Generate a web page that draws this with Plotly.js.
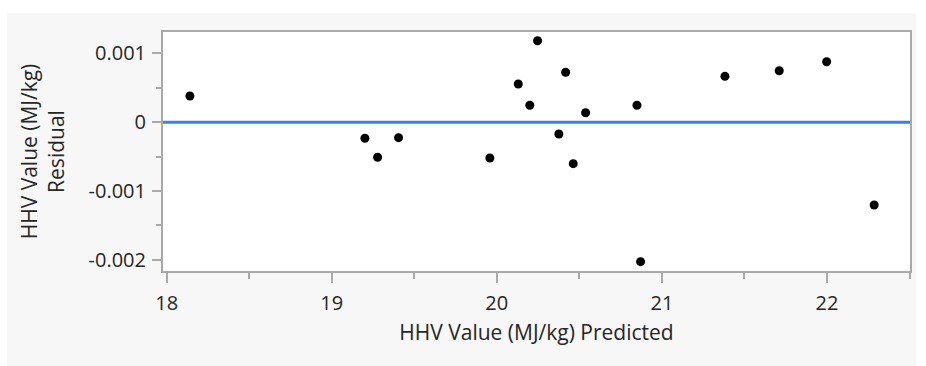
<!DOCTYPE html>
<html>
<head>
<meta charset="utf-8">
<script src="https://cdn.plot.ly/plotly-3.0.1.min.js"></script>
<style>
  html, body { margin: 0; padding: 0; background: #ffffff; }
  #chart { position: absolute; left: 7px; top: 13px; width: 909px; height: 353px; }
</style>
</head>
<body>
<div id="chart"></div>
<script>
// Predicted HHV values (x) and residuals (y)
const predicted = [18.141, 19.201, 19.278, 19.405, 19.958, 20.130, 20.200, 20.247, 20.376,
                   20.417, 20.463, 20.538, 20.849, 20.871, 21.382, 21.711, 21.998, 22.286];
const residual  = [0.000381, -0.000234, -0.000510, -0.000225, -0.000521, 0.000555, 0.000246, 0.001185, -0.000172,
                   0.000726, -0.000603, 0.000138, 0.000246, -0.002028, 0.000667, 0.000749, 0.000880, -0.001204];
const xTicks = [18, 19, 20, 21, 22];
const yTicks = [-0.002, -0.001, 0, 0.001];
const yTickText = ['-0.002', '-0.001', '0', '0.001'];
const xRange = [17.978, 22.503];
const yRange = [-0.002164, 0.001312];
const xTitle = 'HHV Value (MJ/kg) Predicted';
const yTitle = 'HHV Value (MJ/kg)<br>Residual';

const font = 'Segoe UI, "Open Sans", "Noto Sans", sans-serif';
const textColor = '#262626';
const axisColor = '#a9a9a9';

const traces = [
  {
    x: xRange, y: [0, 0], type: 'scatter', mode: 'lines',
    line: { color: '#3e7ef0', width: 3 }, hoverinfo: 'skip', showlegend: false
  },
  {
    x: predicted, y: residual, type: 'scatter', mode: 'markers',
    marker: { color: '#000000', size: 9 }, showlegend: false
  }
];

const layout = {
  width: 909, height: 353,
  margin: { l: 156, r: 6, t: 19, b: 95 },
  paper_bgcolor: '#f7f7f7',
  plot_bgcolor: '#ffffff',
  font: { family: font, size: 20, color: textColor },
  xaxis: {
    range: xRange, tickvals: xTicks, ticks: 'outside', ticklen: 10, tickwidth: 2, tickcolor: axisColor,
    showline: true, linecolor: axisColor, linewidth: 2, mirror: true, showgrid: false, zeroline: false,
    ticklabelstandoff: 3,
    minor: { dtick: 0.5, tick0: 18, ticks: 'outside', ticklen: 6, tickwidth: 2, tickcolor: axisColor, showgrid: false },
    title: { text: xTitle, font: { family: font, size: 21, color: textColor }, standoff: 10 },
    tickfont: { family: font, size: 20, color: textColor }
  },
  yaxis: {
    range: yRange, tickvals: yTicks, ticktext: yTickText, ticks: 'outside', ticklen: 9, tickwidth: 2, tickcolor: axisColor,
    showline: true, linecolor: axisColor, linewidth: 2, mirror: true, showgrid: false, zeroline: false,
    ticklabelstandoff: 2,
    minor: { dtick: 0.0005, tick0: 0, ticks: 'outside', ticklen: 5, tickwidth: 2, tickcolor: axisColor, showgrid: false },
    title: { text: yTitle, font: { family: font, size: 21, color: textColor }, standoff: 18 },
    tickfont: { family: font, size: 20, color: textColor }
  }
};

Plotly.newPlot('chart', traces, layout, { displayModeBar: false, staticPlot: true });
</script>
</body>
</html>
